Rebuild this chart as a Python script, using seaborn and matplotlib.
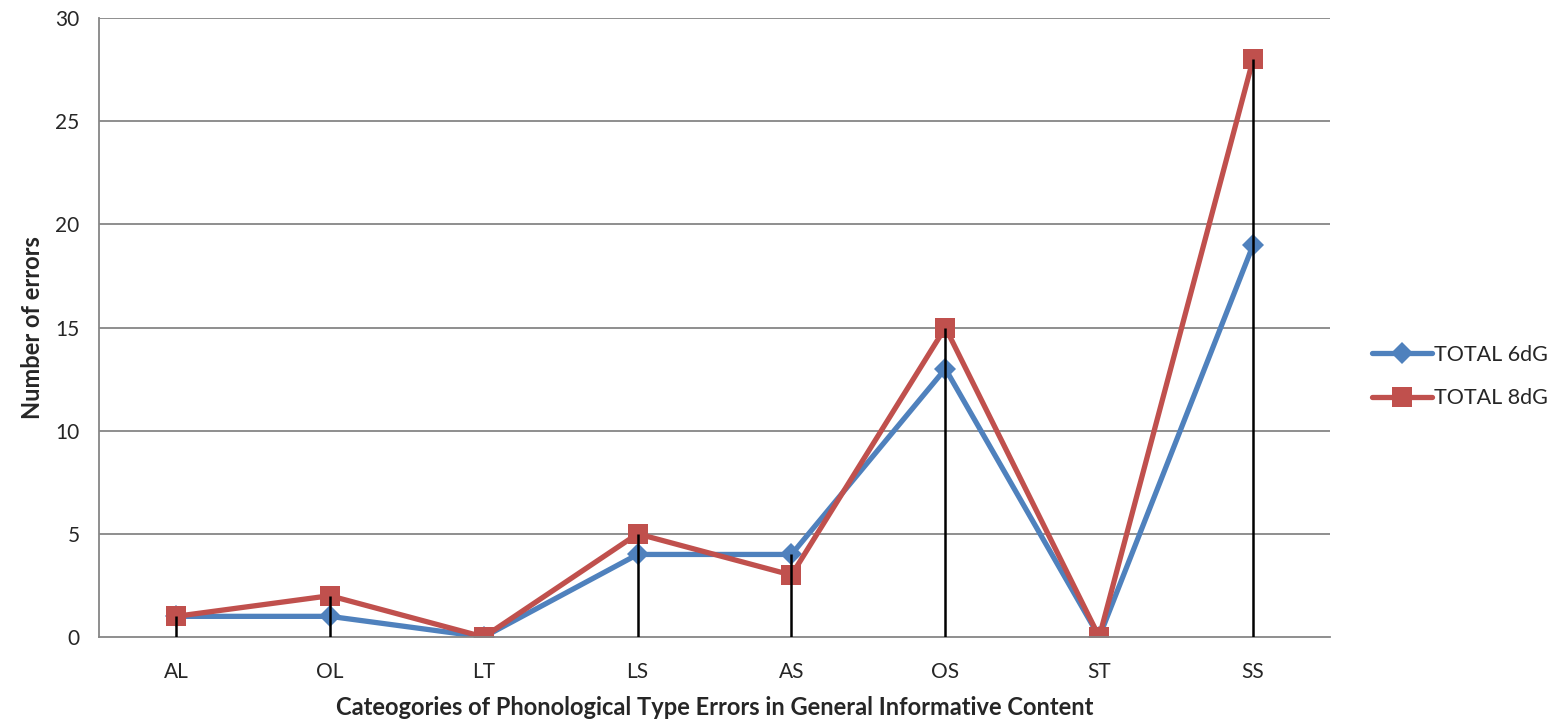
import matplotlib
matplotlib.use("Agg")
import matplotlib.pyplot as plt
import seaborn as sns
import pandas as pd
import numpy as np
from matplotlib.lines import Line2D

categories = ["AL", "OL", "LT", "LS", "AS", "OS", "ST", "SS"]
total_6dg = [1, 1, 0, 4, 4, 13, 0, 19]
total_8dg = [1, 2, 0, 5, 3, 15, 0, 28]
series_names = ["TOTAL 6dG", "TOTAL 8dG"]
y_ticks = [0, 5, 10, 15, 20, 25, 30]

sns.set_theme(style="white")
plt.rcParams["font.family"] = ["Lato", "DejaVu Sans"]

df = pd.DataFrame({
    "category": categories * 2,
    "value": total_6dg + total_8dg,
    "series": [series_names[0]] * len(categories) + [series_names[1]] * len(categories),
})

fig = plt.figure(figsize=(15.6, 7.24), dpi=100)
ax = fig.add_axes([0.0635, 0.1202, 0.7891, 0.8549])

grid_c = "#868686"
for t in y_ticks[1:]:
    ax.axhline(t, color=grid_c, lw=1.3, zorder=0)

palette = {series_names[0]: "#4F81BD", series_names[1]: "#C0504D"}
markers = {series_names[0]: "D", series_names[1]: "s"}
msize = {series_names[0]: 11, series_names[1]: 14}
LW = 3.8
sns.lineplot(data=df, x="category", y="value", hue="series", style="series",
             palette=palette, markers=markers, dashes=False, lw=LW,
             markersize=14, markeredgewidth=0, ax=ax, legend=False, sort=False)
for line in ax.get_lines():
    if line.get_marker() == "D":
        line.set_markersize(msize[series_names[0]])

maxvals = np.maximum(total_6dg, total_8dg)
ax.vlines(categories, 0, maxvals, color="black", lw=1.8, zorder=5)

ax.set_xlim(-0.5, len(categories) - 0.5)
ax.set_ylim(0, 30)
ax.set_yticks(y_ticks)
ax.tick_params(axis="y", length=6, color=grid_c, width=1.3, labelsize=15, pad=8)
ax.tick_params(axis="x", length=0, labelsize=15, pad=18)
for s in ["top", "right"]:
    ax.spines[s].set_visible(False)
ax.spines["left"].set_color(grid_c)
ax.spines["left"].set_linewidth(1.3)
ax.spines["bottom"].set_color(grid_c)
ax.spines["bottom"].set_linewidth(1.3)

ax.set_xlabel("Cateogories of Phonological Type Errors in General Informative Content",
              fontsize=17, fontweight="bold", labelpad=10)
ax.set_ylabel("Number of errors", fontsize=17, fontweight="bold", labelpad=8)

handles = [Line2D([], [], color=palette[n], marker=markers[n], lw=LW,
                  markersize=msize[n], markeredgewidth=0)
           for n in series_names]
fig.legend(handles, series_names, loc="center left", bbox_to_anchor=(0.867, 0.48),
           frameon=False, fontsize=15.5, handlelength=2.8, labelspacing=1.1,
           handletextpad=0.1)

fig.savefig("out.png", dpi=100)
